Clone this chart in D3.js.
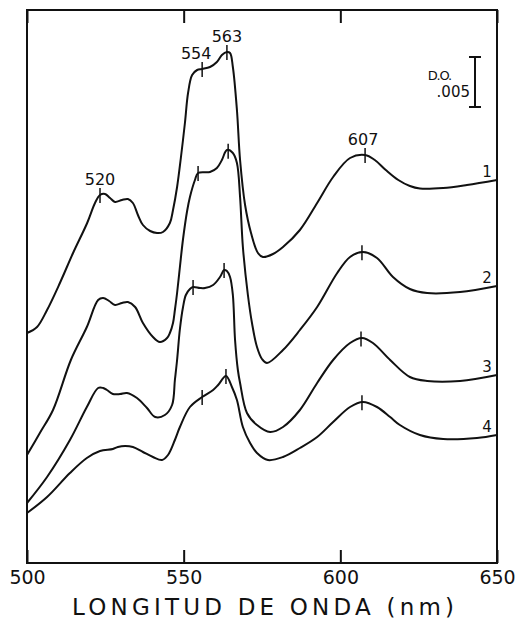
<!DOCTYPE html>
<html>
<head>
<meta charset="utf-8">
<script src="https://cdn.jsdelivr.net/npm/d3@7"></script>
<style>
  body { margin: 0; background: #fff; }
  svg text { font-family: "DejaVu Sans", sans-serif; fill: #111; }
</style>
</head>
<body>
<div id="chart"></div>
<script>
// wavelength (nm) and optical density in units of 0.001 D.O. (arbitrary offset)
const xTicks = [500, 550, 600, 650];

const curve1 = [[500, 23.0], [503.2, 23.6], [506.4, 25.3], [510.5, 28.0], [514.7, 31.0], [519.2, 34.0], [521.7, 36.0], [523.3, 36.8], [524.9, 36.9], [526.5, 36.5], [528.1, 36.1], [530.3, 36.3], [532.2, 36.4], [533.8, 36.0], [535.4, 34.8], [537.0, 33.8], [539.3, 33.2], [541.5, 33.0], [543.4, 33.1], [545.6, 34.0], [546.6, 35.3], [547.9, 37.6], [549.1, 40.5], [550.4, 44.0], [551.4, 47.0], [552.7, 48.8], [554.3, 49.3], [555.9, 49.4], [558.4, 49.6], [560.6, 50.1], [562.2, 50.8], [563.8, 51.1], [564.8, 51.0], [565.7, 49.6], [567.0, 45.3], [568.0, 40.3], [569.6, 35.8], [571.5, 33.0], [573.7, 31.0], [575.3, 30.6], [578.5, 30.9], [581.7, 31.6], [587.1, 33.3], [592.6, 36.0], [597.7, 38.6], [603.1, 40.5], [607.9, 40.8], [611.0, 40.3], [614.5, 39.3], [618.5, 38.3], [622.2, 37.7], [625.4, 37.45], [632.8, 37.5], [640.4, 37.8], [650, 38.3]];

const curve2 = [[500, 10.8], [504.1, 13.0], [508.3, 15.3], [514.0, 20.3], [519.1, 23.6], [522.7, 26.3], [524.3, 26.5], [526.2, 26.2], [528.1, 25.8], [530.3, 26.0], [532.2, 26.1], [534.5, 25.6], [537.0, 24.0], [540.2, 22.6], [542.4, 22.1], [544.7, 22.5], [545.6, 23.0], [546.6, 24.0], [547.2, 25.3], [547.9, 27.0], [548.8, 29.6], [549.8, 32.4], [551.1, 35.2], [552.0, 36.6], [553.6, 38.3], [554.6, 39.0], [558.4, 39.1], [560.6, 39.5], [562.2, 40.3], [563.8, 41.3], [565.7, 41.0], [567.0, 40.0], [568.0, 36.6], [568.9, 31.6], [570.5, 26.8], [571.8, 24.0], [573.4, 21.6], [575.0, 20.4], [576.6, 20.0], [581.7, 21.3], [587.1, 23.3], [592.6, 25.6], [599.0, 29.0], [603.1, 30.6], [607.2, 31.1], [611.7, 30.5], [616.8, 28.6], [622.2, 27.4], [627.7, 27.0], [638.2, 27.1], [650, 27.7]];

const curve3 = [[500, 6.0], [506.4, 8.6], [513.7, 12.3], [519.1, 15.6], [522.7, 17.5], [524.3, 17.5], [525.5, 17.3], [527.4, 16.9], [529.7, 16.9], [531.9, 17.0], [535.1, 16.5], [538.3, 15.5], [540.9, 14.6], [544.0, 14.8], [546.3, 15.8], [547.2, 18.3], [547.9, 20.3], [548.8, 23.4], [549.8, 25.6], [550.7, 26.8], [552.0, 27.4], [553.0, 27.6], [555.2, 27.5], [556.8, 27.5], [559.4, 27.8], [561.6, 28.6], [562.9, 29.3], [563.8, 29.2], [564.8, 28.6], [565.7, 26.8], [566.4, 22.3], [567.3, 19.3], [568.0, 18.0], [570.2, 15.0], [573.4, 13.8], [577.6, 13.1], [581.7, 13.6], [587.1, 15.3], [592.6, 18.0], [597.7, 20.3], [603.1, 22.0], [606.9, 22.5], [610.4, 22.0], [615.9, 20.3], [622.2, 18.6], [627.7, 18.2], [638.2, 18.2], [650, 18.8]];

const curve4 = [[500, 5.0], [506.4, 6.6], [513.7, 9.0], [519.1, 10.5], [523.3, 11.2], [527.4, 11.4], [529.0, 11.6], [531.3, 11.7], [533.8, 11.6], [537.0, 11.1], [540.2, 10.6], [543.1, 10.3], [545.0, 10.8], [547.2, 12.3], [548.8, 13.6], [552.0, 15.6], [555.9, 16.6], [559.4, 17.3], [561.0, 17.8], [563.5, 18.7], [565.4, 17.6], [567.0, 16.3], [568.9, 13.6], [571.2, 12.0], [573.4, 11.0], [576.9, 10.3], [581.7, 10.6], [587.1, 11.5], [592.6, 12.6], [597.7, 14.1], [603.1, 15.6], [607.2, 16.1], [611.7, 15.6], [615.9, 14.6], [619.0, 13.8], [625.4, 12.8], [632.8, 12.4], [643.6, 12.5], [650, 12.8]];

const curves = [curve1, curve2, curve3, curve4];
const seriesNames = ['1', '2', '3', '4'];

// wavelengths of the small peak marks on each curve
const peakMarks = [
  [523.3, 555.9, 563.8, 607.9],
  [554.6, 564.2, 606.9],
  [553.0, 562.9, 606.6],
  [555.9, 563.5, 606.9]
];
const peakLabels = ['520', '554', '563', '607'];

const scaleBarValue = 5; // 0.005 D.O.
const scaleBarText = ['D.O.', '.005'];
const axisTitle = 'LONGITUD DE ONDA (nm)';

const margin = { top: 10, right: 22, bottom: 60, left: 27 };
const W = 519, H = 623;
const width = W - margin.left - margin.right;
const height = H - margin.top - margin.bottom;

const x = d3.scaleLinear().domain([500, 650]).range([0, width]);
const y = d3.scaleLinear().domain([0, 55.3]).range([height, 0]);

const svg = d3.select('#chart').append('svg')
  .attr('width', W)
  .attr('height', H);

const g = svg.append('g')
  .attr('transform', `translate(${margin.left},${margin.top})`);

// frame
g.append('rect')
  .attr('width', width)
  .attr('height', height)
  .attr('fill', 'none')
  .attr('stroke', '#111')
  .attr('stroke-width', 2);

// axes: ticks point inward
const xAxis = d3.axisBottom(x).tickValues(xTicks).tickSizeInner(-13).tickSizeOuter(0).tickPadding(8);
const xAxisG = g.append('g')
  .attr('transform', `translate(0,${height})`)
  .call(xAxis);
xAxisG.select('.domain').remove();
xAxisG.selectAll('line').attr('stroke', '#111').attr('stroke-width', 2);
xAxisG.selectAll('text')
  .attr('font-size', 19)
  .attr('font-family', '"DejaVu Sans", sans-serif')
  .attr('fill', '#111');

const xTop = g.append('g')
  .call(d3.axisTop(x).tickValues(xTicks).tickSizeInner(-13).tickSizeOuter(0).tickFormat(''));
xTop.select('.domain').remove();
xTop.selectAll('line').attr('stroke', '#111').attr('stroke-width', 2);

// axis title
g.append('text')
  .attr('x', 45)
  .attr('y', height + 52)
  .attr('font-size', 23)
  .attr('textLength', 382)
  .attr('lengthAdjust', 'spacing')
  .text(axisTitle);

// spectra
const line = d3.line()
  .x(d => x(d[0]))
  .y(d => y(d[1]))
  .curve(d3.curveCatmullRom.alpha(0.5));

g.selectAll('.spectrum')
  .data(curves)
  .join('path')
    .attr('class', 'spectrum')
    .attr('d', line)
    .attr('fill', 'none')
    .attr('stroke', '#111')
    .attr('stroke-width', 2);

// value of a curve at a wavelength (linear between read points)
function valueAt(curve, nm) {
  const i = d3.bisector(d => d[0]).left(curve, nm);
  if (i <= 0) return curve[0][1];
  if (i >= curve.length) return curve[curve.length - 1][1];
  const a = curve[i - 1], b = curve[i];
  return a[1] + (b[1] - a[1]) * (nm - a[0]) / (b[0] - a[0]);
}

// peak marks
const marks = [];
peakMarks.forEach((list, ci) => list.forEach((nm, k) => marks.push({ ci, k, nm, v: valueAt(curves[ci], nm) })));

g.selectAll('.peak-mark')
  .data(marks)
  .join('line')
    .attr('class', 'peak-mark')
    .attr('x1', d => x(d.nm))
    .attr('x2', d => x(d.nm))
    .attr('y1', d => y(d.v) - 7)
    .attr('y2', d => y(d.v) + 8)
    .attr('stroke', '#111')
    .attr('stroke-width', 1.5);

// peak labels above curve 1
const labelShift = [0, -6, 0, -2];
g.selectAll('.peak-label')
  .data(marks.filter(d => d.ci === 0))
  .join('text')
    .attr('class', 'peak-label')
    .attr('x', d => x(d.nm) + labelShift[d.k])
    .attr('y', d => y(d.v) - 10)
    .attr('text-anchor', 'middle')
    .attr('font-size', 16)
    .text(d => peakLabels[d.k]);

// curve numbers at right edge
g.selectAll('.series-label')
  .data(curves)
  .join('text')
    .attr('class', 'series-label')
    .attr('x', width - 10)
    .attr('y', d => y(d[d.length - 1][1]) - 3)
    .attr('text-anchor', 'middle')
    .attr('font-size', 15)
    .text((d, i) => seriesNames[i]);

// D.O. scale bar
const barX = width - 22;
const barTop = y(50.6);
const barBottom = barTop + (y(0) - y(scaleBarValue));
const bar = g.append('g').attr('stroke', '#111').attr('stroke-width', 2);
bar.append('line').attr('x1', barX).attr('x2', barX).attr('y1', barTop).attr('y2', barBottom);
bar.append('line').attr('x1', barX - 6).attr('x2', barX + 6).attr('y1', barTop).attr('y2', barTop);
bar.append('line').attr('x1', barX - 6).attr('x2', barX + 6).attr('y1', barBottom).attr('y2', barBottom);

g.append('text')
  .attr('x', barX - 24)
  .attr('y', barTop + 23)
  .attr('text-anchor', 'end')
  .attr('font-size', 13)
  .attr('letter-spacing', -1.2)
  .text(scaleBarText[0]);
g.append('text')
  .attr('x', barX - 5)
  .attr('y', barTop + 40)
  .attr('text-anchor', 'end')
  .attr('font-size', 15)
  .text(scaleBarText[1]);
</script>
</body>
</html>
